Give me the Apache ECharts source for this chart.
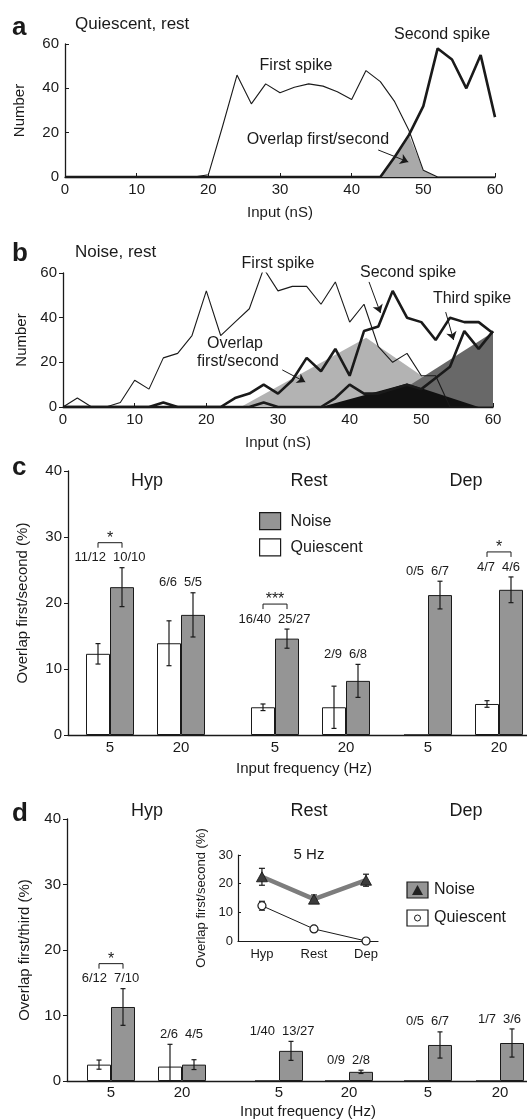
<!DOCTYPE html>
<html lang="en">
<head>
    <meta charset="UTF-8">
    <title>Overlap of spike distributions</title>
    <script src="https://cdn.jsdelivr.net/npm/echarts@6/dist/echarts.min.js"></script>
    <style>html, body { margin: 0; padding: 0; background: #fff; }</style>
</head>
<body>
    <div id="chart" style="width: 527px; height: 1120px;"></div>
    <script>
        // ---- panel a / b : spike histograms ----
        const inputNS = [0, 2, 4, 6, 8, 10, 12, 14, 16, 18, 20, 22, 24, 26, 28, 30, 32, 34, 36, 38, 40, 42, 44, 46, 48, 50, 52, 54, 56, 58, 60];
        const quietFirst = [0, 0, 0, 0, 0, 0, 0, 0, 0, 0, 1, 23, 46, 33, 42, 38, 40.5, 42, 41, 38.5, 35, 48, 43, 34, 21, 3, 0, 0, 0, 0, 0];
        const quietSecond = [0, 0, 0, 0, 0, 0, 0, 0, 0, 0, 0, 0, 0, 0, 0, 0, 0, 0, 0, 0, 0, 0, 0, 9, 19, 32, 58, 53, 40, 55, 27];
        const quietOverlap = [0, 0, 0, 0, 0, 0, 0, 0, 0, 0, 0, 0, 0, 0, 0, 0, 0, 0, 0, 0, 0, 0, 0, 9, 19, 3, 0, 0, 0, 0, 0];
        const noiseFirst = [0, 4, 0, 0, 2, 12, 8, 22, 24, 32, 52, 32, 38, 44, 62, 52, 54, 54, 46, 56, 38, 46, 27, 20, 24, 14, 14, 0, 0, 0, 0];
        const noiseSecond = [0, 0, 0, 0, 0, 0, 0, 2, 0, 0, 0, 0, 4, 6, 10, 6, 12, 22, 16, 26, 14, 34, 36, 52, 40, 38, 30, 40, 38, 38, 33];
        const noiseThird = [0, 0, 0, 0, 0, 0, 0, 0, 0, 0, 0, 0, 0, 0, 2, 0, 0, 0, 0, 4, 10, 6, 6, 8, 10, 8, 13, 18, 34, 26, 34];
        const overlapFirstSecond = [[24.8, 0], [42.3, 31], [56.4, 0]];
        const overlapSecondThird = [[43.6, 0], [60, 33.5]];
        const overlapFirstThird = [[36, 0], [48, 10.5], [58, 0]];

        // ---- panel c / d : bars (rows = state, cols = frequency) ----
        const states = ['Hyp', 'Rest', 'Dep'];
        const freqs = ['5', '20'];
        const secQuiet = [[12.3, 13.9], [4.2, 4.2], [0, 4.7]];
        const secQuietSem = [[1.55, 3.4], [0.5, 3.2], [0, 0.5]];
        const secNoise = [[22.4, 18.2], [14.6, 8.2], [21.2, 22.0]];
        const secNoiseSem = [[2.95, 3.35], [1.45, 2.5], [2.1, 1.95]];
        const secQuietN = [['11/12', '6/6'], ['16/40', '2/9'], ['0/5', '4/7']];
        const secNoiseN = [['10/10', '5/5'], ['25/27', '6/8'], ['6/7', '4/6']];
        const secSig = [['*', ''], ['***', ''], ['', '*']];

        const thirdQuiet = [[2.5, 2.2], [0, 0], [0, 0]];
        const thirdQuietSem = [[0.7, 3.4], [0, 0], [0, 0]];
        const thirdNoise = [[11.3, 2.5], [4.6, 1.4], [5.5, 5.8]];
        const thirdNoiseSem = [[2.8, 0.75], [1.45, 0.25], [2.0, 2.15]];
        const thirdQuietN = [['6/12', '2/6'], ['1/40', '0/9'], ['0/5', '1/7']];
        const thirdNoiseN = [['7/10', '4/5'], ['13/27', '2/8'], ['6/7', '3/6']];
        const thirdSig = [['*', ''], ['', ''], ['', '']];

        const FONT = "'Liberation Sans', Arial, Helvetica, sans-serif";
        const INK = '#1a1a1a';
        const BAR_GRAY = '#959595';
        const BAR_W = 24;

        const chart = echarts.init(document.getElementById('chart'));
        const grids = [], xAxes = [], yAxes = [], series = [], graphics = [];

        const pts = (xs, ys) => xs.map((x, i) => [x, ys[i]]);
        const seg = (x1, y1, x2, y2, w) => ({ type: 'line', shape: { x1, y1, x2, y2 }, style: { stroke: INK, lineWidth: w || 1.2 } });
        const txt = (x, y, text, size, align, extra) => Object.assign({
            type: 'text', x, y, z: 10, silent: true,
            style: Object.assign({ text, fontSize: size, fontFamily: FONT, fill: INK, align: align || 'center', textAlign: align || 'center', verticalAlign: 'middle', textVerticalAlign: 'middle' }, extra || {})
        });
        const axisText = size => ({ fontSize: size, color: INK, fontFamily: FONT });

        // histogram panel (a, b)
        function histPanel(left, top, width, height, nameGapY, tickInside) {
            grids.push({ left, top, width, height, outerBoundsMode: 'none' });
            const gi = grids.length - 1;
            xAxes.push({
                gridIndex: gi, type: 'value', min: 0, max: 60, interval: 10,
                name: 'Input (nS)', nameLocation: 'middle', nameGap: 28, nameTextStyle: axisText(15),
                axisLine: { show: true, lineStyle: { color: INK, width: 1.3 } },
                axisTick: { show: true, inside: true, length: 4, lineStyle: { color: INK } },
                axisLabel: Object.assign({ margin: 5 }, axisText(15)),
                splitLine: { show: false }
            });
            yAxes.push({
                gridIndex: gi, type: 'value', min: 0, max: 60, interval: 20,
                name: 'Number', nameLocation: 'middle', nameRotate: 90, nameGap: nameGapY, nameTextStyle: axisText(15),
                axisLine: { show: true, onZero: false, lineStyle: { color: INK, width: 1.3 } },
                axisTick: { show: true, inside: tickInside, length: 4, lineStyle: { color: INK } },
                axisLabel: Object.assign({ margin: 6 }, axisText(15)),
                splitLine: { show: false }
            });
            return gi;
        }
        const area = (gi, data, color) => ({
            type: 'line', xAxisIndex: gi, yAxisIndex: gi, data, symbol: 'none', silent: true,
            lineStyle: { width: 0 }, areaStyle: { color, opacity: 1 }
        });
        const curve = (gi, data, width, arrows) => ({
            type: 'line', xAxisIndex: gi, yAxisIndex: gi, data, symbol: 'none', silent: true,
            lineStyle: { color: INK, width },
            markLine: arrows ? {
                silent: true, symbol: ['none', 'arrow'], symbolSize: 8, animation: false,
                label: { show: false }, lineStyle: { color: INK, width: 1, type: 'solid' },
                data: arrows.map(a => [{ coord: a[0] }, { coord: a[1] }])
            } : undefined
        });

        // panel a
        const ga = histPanel(65, 44, 430, 133, 38, true);
        series.push(area(ga, pts(inputNS, quietOverlap), '#a9a9a9'));
        series.push(curve(ga, pts(inputNS, quietFirst), 1.1, [[[43.7, 12.2], [47.9, 6.8]]]));
        series.push(curve(ga, pts(inputNS, quietSecond), 2.6));

        // panel b
        const gb = histPanel(63, 273, 430, 134, 33, false);
        series.push(area(gb, overlapFirstSecond, '#b3b3b3'));
        series.push(area(gb, overlapSecondThird, '#686868'));
        series.push(area(gb, overlapFirstThird, '#111111'));
        series.push(curve(gb, pts(inputNS, noiseFirst), 1.1, [
            [[30.6, 16.6], [33.8, 11.2]],
            [[42.7, 56], [44.3, 42.1]],
            [[53.4, 42.5], [54.5, 30]]
        ]));
        series.push(curve(gb, pts(inputNS, noiseSecond), 2.6));
        series.push(curve(gb, pts(inputNS, noiseThird), 2.6));

        // bar panels (c, d)
        function errorBars(qv, qe, nv, ne) {
            return (params, api) => {
                const i = api.value(0);
                const cx = api.coord([i, 0])[0];
                const kids = [];
                [[qv[i], qe[i], -BAR_W / 2], [nv[i], ne[i], BAR_W / 2]].forEach(([v, e, dx]) => {
                    if (!e) return;
                    const x = cx + dx;
                    const lo = api.coord([i, Math.max(0, v - e)])[1];
                    const hi = api.coord([i, v + e])[1];
                    kids.push(seg(x, lo, x, hi), seg(x - 2.5, lo, x + 2.5, lo), seg(x - 2.5, hi, x + 2.5, hi));
                });
                return { type: 'group', children: kids };
            };
        }
        function countLabels(qv, qe, nv, ne, qn, nn, sig) {
            return (params, api) => {
                const i = api.value(0);
                const cx = api.coord([i, 0])[0];
                const top = Math.max(qv[i] + qe[i], nv[i] + ne[i]);
                const y = api.coord([i, top])[1] - 10;
                const kids = [txt(cx - 4, y, qn[i], 13, 'right'), txt(cx + 3, y, nn[i], 13, 'left')];
                if (sig[i]) {
                    const by = y - 15, x1 = cx - BAR_W / 2, x2 = cx + BAR_W / 2;
                    kids.push(seg(x1, by + 5, x1, by, 1), seg(x1, by, x2, by, 1), seg(x2, by, x2, by + 5, 1));
                    kids.push(txt(cx, by - 4, sig[i], 16, 'center'));
                }
                return { type: 'group', children: kids };
            };
        }
        function barPanel(cfg) {
            grids.push({ left: cfg.left, right: 0, top: cfg.top, height: cfg.height, outerBoundsMode: 'none' });
            const gbase = grids.length - 1;
            xAxes.push({
                gridIndex: gbase, type: 'value', min: 0, max: 1,
                axisLine: { show: true, onZero: false, lineStyle: { color: INK, width: 1.3 } },
                axisTick: { show: false }, axisLabel: { show: false }, splitLine: { show: false }
            });
            yAxes.push({
                gridIndex: gbase, type: 'value', min: 0, max: 40, interval: 10,
                name: cfg.yName, nameLocation: 'middle', nameRotate: 90, nameGap: cfg.nameGap, nameTextStyle: axisText(15),
                axisLine: { show: true, onZero: false, lineStyle: { color: INK, width: 1.3 } },
                axisTick: { show: true, length: 4, lineStyle: { color: INK } },
                axisLabel: Object.assign({ margin: 6 }, axisText(15)),
                splitLine: { show: false }
            });
            states.forEach((st, g) => {
                grids.push({ left: cfg.groupLeft[g], width: cfg.groupWidth[g], top: cfg.top, height: cfg.height, outerBoundsMode: 'none' });
                const gi = grids.length - 1;
                xAxes.push({
                    gridIndex: gi, type: 'category', data: freqs,
                    axisLine: { show: false }, axisTick: { show: false },
                    axisLabel: Object.assign({ margin: cfg.labelMargin }, axisText(15))
                });
                yAxes.push({ gridIndex: gi, type: 'value', min: 0, max: 40, show: false });
                series.push({
                    type: 'bar', name: 'Quiescent', xAxisIndex: gi, yAxisIndex: gi, data: cfg.quiet[g],
                    barWidth: BAR_W, barGap: '0%', silent: true,
                    itemStyle: { color: '#ffffff', borderColor: INK, borderWidth: 1 }
                });
                series.push({
                    type: 'bar', name: 'Noise', xAxisIndex: gi, yAxisIndex: gi, data: cfg.noise[g],
                    barWidth: BAR_W, barGap: '0%', silent: true,
                    itemStyle: { color: BAR_GRAY, borderColor: INK, borderWidth: 1 }
                });
                series.push({
                    type: 'custom', xAxisIndex: gi, yAxisIndex: gi, silent: true, z: 3,
                    data: freqs.map((f, i) => [i, 0]),
                    renderItem: errorBars(cfg.quiet[g], cfg.quietSem[g], cfg.noise[g], cfg.noiseSem[g])
                });
                series.push({
                    type: 'custom', xAxisIndex: gi, yAxisIndex: gi, silent: true, z: 3,
                    data: freqs.map((f, i) => [i, 0]),
                    renderItem: countLabels(cfg.quiet[g], cfg.quietSem[g], cfg.noise[g], cfg.noiseSem[g],
                        cfg.quietN[g], cfg.noiseN[g], cfg.sig[g])
                });
                graphics.push(txt(cfg.titleX[g], cfg.titleY, st, 18));
            });
        }

        barPanel({
            left: 68, top: 471, height: 264, yName: 'Overlap first/second (%)', nameGap: 38,
            groupLeft: [74.5, 239.5, 392.5], groupWidth: [142, 142, 142], labelMargin: 5,
            titleX: [147, 309, 466], titleY: 481,
            quiet: secQuiet, quietSem: secQuietSem, noise: secNoise, noiseSem: secNoiseSem,
            quietN: secQuietN, noiseN: secNoiseN, sig: secSig
        });
        barPanel({
            left: 67, top: 819, height: 262, yName: 'Overlap first/third (%)', nameGap: 35,
            groupLeft: [75.5, 244, 392], groupWidth: [142, 140, 144], labelMargin: 4,
            titleX: [147, 309, 466], titleY: 811,
            quiet: thirdQuiet, quietSem: thirdQuietSem, noise: thirdNoise, noiseSem: thirdNoiseSem,
            quietN: thirdQuietN, noiseN: thirdNoiseN, sig: thirdSig
        });

        // inset in d: 5 Hz overlap first/second per state
        grids.push({ left: 238, top: 855, width: 140, height: 86, outerBoundsMode: 'none' });
        const gin = grids.length - 1;
        xAxes.push({
            gridIndex: gin, type: 'value', min: -0.46, max: 2.23,
            axisLine: { show: true, onZero: false, lineStyle: { color: INK, width: 1.2 } },
            axisTick: { show: false }, splitLine: { show: false },
            axisLabel: Object.assign({ customValues: [0, 1, 2], formatter: v => states[Math.round(v)] || '', margin: 7 }, axisText(13))
        });
        yAxes.push({
            gridIndex: gin, type: 'value', min: 0, max: 30, interval: 10,
            name: 'Overlap first/second (%)', nameLocation: 'middle', nameRotate: 90, nameGap: 30, nameTextStyle: axisText(13),
            axisLine: { show: true, onZero: false, lineStyle: { color: INK, width: 1.2 } },
            axisTick: { show: true, inside: true, length: 3, lineStyle: { color: INK } },
            axisLabel: Object.assign({ margin: 5 }, axisText(13)),
            splitLine: { show: false }
        });
        series.push({
            type: 'custom', xAxisIndex: gin, yAxisIndex: gin, silent: true, z: 2,
            data: states.map((s, i) => [i, 0]),
            renderItem: (params, api) => {
                const i = api.value(0);
                const x = api.coord([i, 0])[0];
                const kids = [];
                [[secNoise[i][0], secNoiseSem[i][0]], [secQuiet[i][0], secQuietSem[i][0]]].forEach(([v, e]) => {
                    if (!e) return;
                    const lo = api.coord([i, v - e])[1], hi = api.coord([i, v + e])[1];
                    kids.push(seg(x, lo, x, hi), seg(x - 3, lo, x + 3, lo), seg(x - 3, hi, x + 3, hi));
                });
                return { type: 'group', children: kids };
            }
        });
        series.push({
            type: 'line', name: 'Noise 5 Hz', xAxisIndex: gin, yAxisIndex: gin, silent: true, z: 3,
            data: states.map((s, i) => [i, secNoise[i][0]]),
            lineStyle: { color: '#7d7d7d', width: 4.5 },
            symbol: 'triangle', symbolSize: [11, 10],
            itemStyle: { color: '#3c3c3c', borderColor: '#111', borderWidth: 0.8 }
        });
        series.push({
            type: 'line', name: 'Quiescent 5 Hz', xAxisIndex: gin, yAxisIndex: gin, silent: true, z: 4,
            data: states.map((s, i) => [i, secQuiet[i][0]]),
            lineStyle: { color: INK, width: 1 },
            symbol: 'circle', symbolSize: 8,
            itemStyle: { color: '#ffffff', borderColor: INK, borderWidth: 1.2 }
        });

        // text annotations
        const bold = { fontWeight: 'bold' };
        graphics.push(
            txt(12, 28, 'a', 26, 'left', bold),
            txt(75, 24, 'Quiescent, rest', 17, 'left'),
            txt(296, 66, 'First spike', 16),
            txt(442, 35, 'Second spike', 16),
            txt(318, 140, 'Overlap first/second', 16),
            txt(12, 254, 'b', 26, 'left', bold),
            txt(75, 252, 'Noise, rest', 17, 'left'),
            txt(278, 264, 'First spike', 16),
            txt(408, 273, 'Second spike', 16),
            txt(472, 299, 'Third spike', 16),
            txt(235, 344, 'Overlap', 16),
            txt(238, 362, 'first/second', 16),
            txt(12, 468, 'c', 26, 'left', bold),
            txt(304, 769, 'Input frequency (Hz)', 15),
            txt(12, 814, 'd', 26, 'left', bold),
            txt(308, 1112, 'Input frequency (Hz)', 15),
            txt(309, 855, '5 Hz', 15),
            // legend of d
            { type: 'rect', z: 10, shape: { x: 407, y: 882, width: 21, height: 16 }, style: { fill: BAR_GRAY, stroke: INK, lineWidth: 1.2 } },
            { type: 'polygon', z: 11, shape: { points: [[417.5, 885], [412, 895], [423, 895]] }, style: { fill: '#222' } },
            { type: 'rect', z: 10, shape: { x: 407, y: 910, width: 21, height: 16 }, style: { fill: '#fff', stroke: INK, lineWidth: 1.2 } },
            { type: 'circle', z: 11, shape: { cx: 417.5, cy: 918, r: 3 }, style: { fill: '#fff', stroke: INK, lineWidth: 1 } },
            txt(434, 890, 'Noise', 16, 'left'),
            txt(434, 918, 'Quiescent', 16, 'left')
        );

        chart.setOption({
            animation: false,
            backgroundColor: '#ffffff',
            textStyle: { fontFamily: FONT },
            grid: grids,
            xAxis: xAxes,
            yAxis: yAxes,
            legend: [{
                data: ['Noise', 'Quiescent'], orient: 'vertical', left: 259, top: 512, padding: 0,
                icon: 'rect', itemWidth: 21, itemHeight: 17, itemGap: 8, selectedMode: false,
                itemStyle: { borderColor: INK, borderWidth: 1.2 },
                textStyle: { fontSize: 16, color: INK, fontFamily: FONT, padding: [0, 0, 0, 5] }
            }],
            graphic: graphics,
            series: series
        });
    </script>
</body>
</html>
